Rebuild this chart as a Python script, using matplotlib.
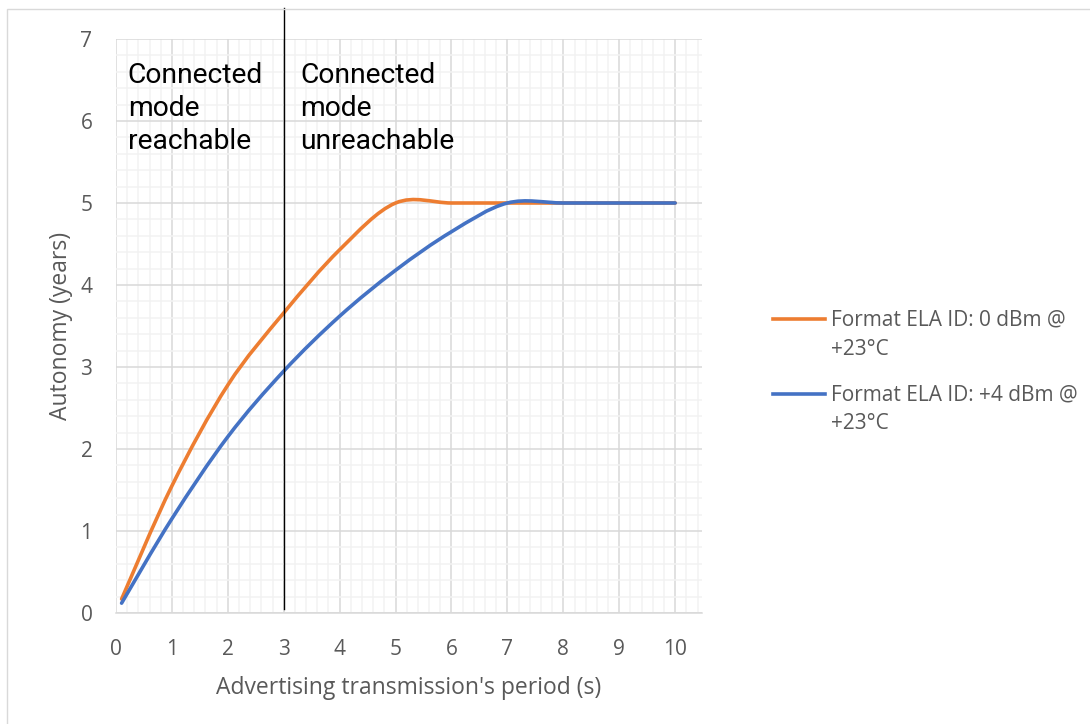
import matplotlib
matplotlib.use("Agg")
import matplotlib.pyplot as plt
from matplotlib.path import Path
from matplotlib.patches import PathPatch, Rectangle
from matplotlib.lines import Line2D
from matplotlib.ticker import MultipleLocator

# data
period = [0.1, 1, 2, 3, 4, 5, 6, 7, 8, 9, 10]
autonomy_0dbm = [0.17, 1.55, 2.78, 3.66, 4.43, 5.0, 5.0, 5.0, 5.0, 5.0, 5.0]
autonomy_4dbm = [0.12, 1.15, 2.15, 2.95, 3.62, 4.18, 4.65, 5.0, 5.0, 5.0, 5.0]
legend_labels = [("Format ELA ID: 0 dBm @", "+23°C"),
                 ("Format ELA ID: +4 dBm @", "+23°C")]
mode_boundary = 3

ORANGE = "#ED7D31"
BLUE = "#4472C4"
GREY_TXT = "#595959"
W, H = 1090, 724


def smooth_path(xs, ys):
    # excel style smoothed line: bezier segments with catmull-rom control points
    pts = list(zip(xs, ys))
    verts = [pts[0]]
    codes = [Path.MOVETO]
    n = len(pts)
    for i in range(n - 1):
        p0 = pts[i - 1] if i > 0 else pts[i]
        p1 = pts[i]
        p2 = pts[i + 1]
        p3 = pts[i + 2] if i + 2 < n else pts[i + 1]
        c1 = (p1[0] + (p2[0] - p0[0]) / 6, p1[1] + (p2[1] - p0[1]) / 6)
        c2 = (p2[0] - (p3[0] - p1[0]) / 6, p2[1] - (p3[1] - p1[1]) / 6)
        verts += [c1, c2, p2]
        codes += [Path.CURVE4] * 3
    return Path(verts, codes)


fig = plt.figure(figsize=(W / 100, H / 100), dpi=100)
ax = fig.add_axes([116 / W, 1 - 613 / H, 586 / W, 574 / H])

# chart area border
fig.patches.append(Rectangle((7 / W, -0.1), 1.2, 1 - 9 / H + 0.1,
                             transform=fig.transFigure, fill=False,
                             edgecolor="#d9d9d9", linewidth=1))

ax.add_patch(PathPatch(smooth_path(period, autonomy_0dbm), fill=False,
                       edgecolor=ORANGE, linewidth=2.6, capstyle="round", zorder=3))
ax.add_patch(PathPatch(smooth_path(period, autonomy_4dbm), fill=False,
                       edgecolor=BLUE, linewidth=2.6, capstyle="round", zorder=4))

ax.set_xlim(0, 10.48)
ax.set_ylim(0, 7)
ax.set_xticks(range(0, 11))
ax.set_yticks(range(0, 8))
ax.xaxis.set_minor_locator(MultipleLocator(0.2))
ax.yaxis.set_minor_locator(MultipleLocator(0.2))
ax.grid(which="major", color="#d9d9d9", linewidth=1.1)
ax.grid(which="minor", color="#f2f2f2", linewidth=1.1)
ax.set_axisbelow(True)
for s in ["top", "right", "left"]:
    ax.spines[s].set_visible(False)
ax.spines["bottom"].set_color("#d9d9d9")
ax.spines["bottom"].set_linewidth(1.1)
ax.tick_params(which="both", length=0, labelsize=15, labelcolor=GREY_TXT)
ax.tick_params(axis="x", pad=19)
ax.tick_params(axis="y", pad=17)
for t in ax.get_xticklabels() + ax.get_yticklabels():
    t.set_fontfamily("Open Sans")

ax.set_xlabel("Advertising transmission's period (s)", fontsize=16.5,
              color=GREY_TXT, family="Open Sans", labelpad=11)
ax.set_ylabel("Autonomy (years)", fontsize=16.5, color=GREY_TXT,
              family="Open Sans", labelpad=5)

ax.axvline(mode_boundary, ymin=0.007, ymax=1.054, color="black",
           linewidth=1, clip_on=False, zorder=5)

ax.text(0.21, 6.72, "Connected\nmode\nreachable", fontsize=20.3, family="Roboto",
        va="top", ha="left", linespacing=1.28)
ax.text(mode_boundary + 0.29, 6.72, "Connected\nmode\nunreachable", fontsize=20.3,
        family="Roboto", va="top", ha="left", linespacing=1.28)

# legend drawn by hand so the key sits on the first text line
for i, (color, (l1, l2)) in enumerate(zip([ORANGE, BLUE], legend_labels)):
    y0 = 319 + i * 75
    fig.add_artist(Line2D([773 / W, 825 / W], [1 - y0 / H, 1 - y0 / H],
                          color=color, linewidth=2.6, transform=fig.transFigure))
    fig.text(831 / W, 1 - (y0 + 1) / H, l1, fontsize=15, family="Open Sans",
             color=GREY_TXT, va="center", ha="left")
    fig.text(831 / W, 1 - (y0 + 30) / H, l2, fontsize=15, family="Open Sans",
             color=GREY_TXT, va="center", ha="left")

fig.savefig("out.png", dpi=100)
